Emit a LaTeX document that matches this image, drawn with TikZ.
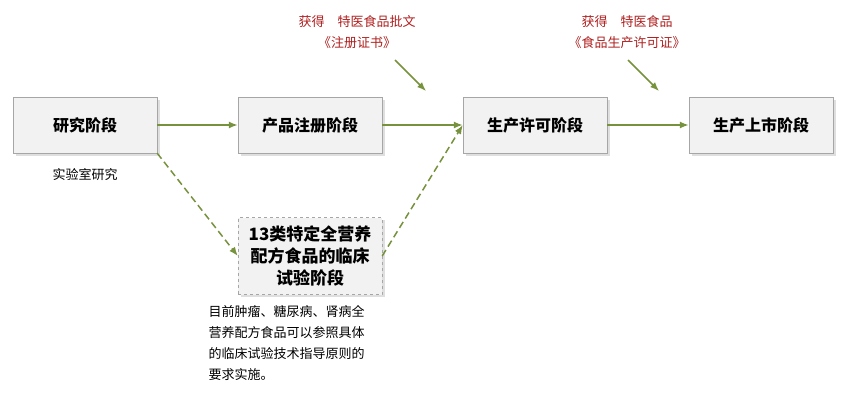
\documentclass[tikz,border=0pt]{standalone}
\usepackage{fontspec}
\setmainfont{Noto Sans CJK SC}
\usetikzlibrary{positioning,shadows,arrows.meta}
\definecolor{leafgreen}{RGB}{118,146,60}
\definecolor{darkred}{RGB}{175,30,30}

\begin{document}
\begin{tikzpicture}[x=1pt,y=-1pt,
stage/.style={rectangle, draw=gray!70, fill=gray!10, minimum width=144pt, minimum height=56pt, font=\bfseries\fontsize{16}{19}\selectfont, drop shadow={opacity=0.25}},
flow/.style={draw=leafgreen, line width=1.5pt, -{Latex[length=9pt,width=7pt]}},
longdash/.style={dash pattern=on 7pt off 4pt},
note/.style={font=\fontsize{13}{21}\selectfont, align=left},
award/.style={text=darkred, font=\fontsize{13}{21}\selectfont, align=center}]
\useasboundingbox (0,0) rectangle (843,401);

% STAGES

\node [stage] (yanjiu) at (85,125) {研究阶段};
\node [stage] (zhuce) at (310,125) {产品注册阶段};
\node [stage] (xuke) at (535,125) {生产许可阶段};
\node [stage] (shangshi) at (761,125) {生产上市阶段};
\node [stage, dashed, minimum height=77pt, align=center, inner sep=2pt, font=\bfseries\fontsize{17}{22}\selectfont] (linchuang) at (310,256) {13类特定全营养\\配方食品的临床\\试验阶段};

% NOTES

\node [note, below=12pt of yanjiu] (shiyan) {实验室研究};
\node [note, anchor=north west] (mubiao) at (205,302) {目前肿瘤、糖尿病、肾病全\\营养配方食品可以参照具体\\的临床试验技术指导原则的\\要求实施。};
\node [award] (pizhun) at (357,32) {获得\quad 特医食品批文\\《注册证书》};
\node [award] (shengchan) at (627,32) {获得\quad 特医食品\\《食品生产许可证》};
\coordinate (pizhun-start) at (395,60);
\coordinate (pizhun-tip) at (426,91);
\coordinate (shengchan-start) at (628,60);
\coordinate (shengchan-tip) at (659,91);

% ARROWS

\draw [flow] (yanjiu) -- (zhuce);
\draw [flow] (zhuce) -- (xuke);
\draw [flow] (xuke) -- (shangshi);
\draw [flow, longdash] (yanjiu.south east) -- (linchuang.west);
\draw [flow, longdash] (linchuang.east) -- (xuke.west);
\draw [flow] (pizhun-start) -- (pizhun-tip);
\draw [flow] (shengchan-start) -- (shengchan-tip);

\end{tikzpicture}
\end{document}
